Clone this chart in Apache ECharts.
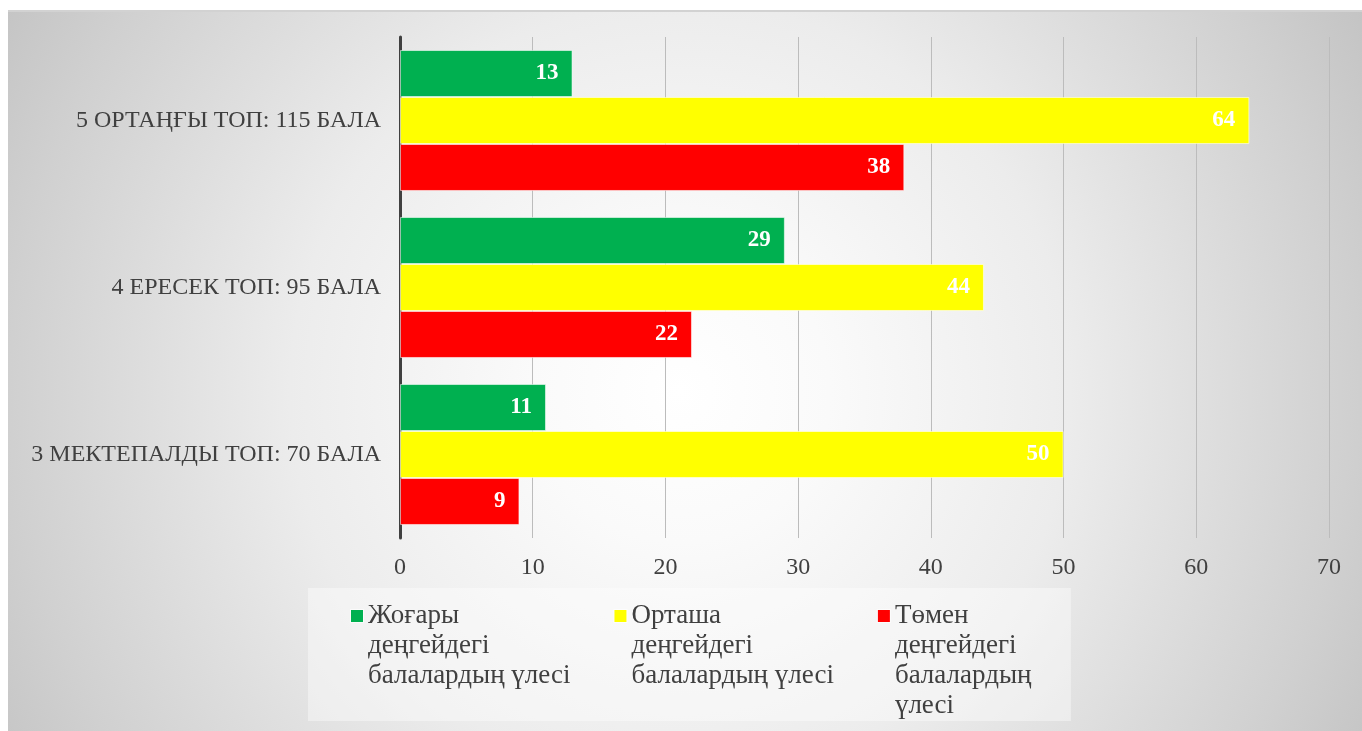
<!DOCTYPE html>
<html>
<head>
<meta charset="utf-8">
<script src="https://cdn.jsdelivr.net/npm/echarts@6/dist/echarts.min.js"></script>
<style>
  html, body { margin: 0; padding: 0; background: #fff; }
  #panel {
    position: absolute; left: 8px; top: 10px; width: 1354px; height: 721px;
    box-sizing: border-box; border-top: 2px solid #d2d2d2;
    background: radial-gradient(circle 800px at 672px 380px,
      #ffffff 0px, #fafafa 150px, #ececec 390px, #d0d0d0 670px, #c2c2c2 800px);
  }
  #chart { position: absolute; left: 0; top: 0; width: 1362px; height: 731px; }
</style>
</head>
<body>
<div id="panel"></div>
<div id="chart"></div>
<script>
// groups, bottom to top as the category axis draws them
const categories = ['3 МЕКТЕПАЛДЫ ТОП: 70 БАЛА', '4 ЕРЕСЕК ТОП: 95 БАЛА', '5 ОРТАҢҒЫ ТОП: 115 БАЛА'];
const highLevel = [11, 29, 13];
const midLevel = [50, 44, 64];
const lowLevel = [9, 22, 38];

const seriesNames = [
  ['Жоғары', 'деңгейдегі', 'балалардың үлесі'],
  ['Орташа', 'деңгейдегі', 'балалардың үлесі'],
  ['Төмен', 'деңгейдегі', 'балалардың', 'үлесі']
];
const legendNames = seriesNames.map(n => n.join(' '));
const COLORS = ['#00b050', '#ffff00', '#ff0000'];

const FONT = "'Liberation Serif', 'DejaVu Serif', serif";
const TEXT = '#404040';

// legend text built as rich lines so the square hangs beside the first line only
function legendLabel(name) {
  const i = legendNames.indexOf(name);
  const lines = seriesNames[i];
  const tk = i === 2 ? 't3' : 't';
  const out = lines.map((l, k) => (k === 0 ? '{sq' + i + '| }{gp| }' : '{ind| }') + '{' + tk + '|' + l + '}');
  while (out.length < 4) out.push('{ind| }{' + tk + '| }');
  return out.join('\n');
}

const sq = c => ({
  width: 12, height: 12, fontSize: 8, backgroundColor: c,
  borderColor: 'rgba(255,255,255,0.6)', borderWidth: 1
});

function barSeries(name, data, color) {
  return {
    name: name,
    type: 'bar',
    data: data,
    barGap: '0%',
    barCategoryGap: '15.6%',
    itemStyle: { color: color, borderColor: 'rgba(255,255,255,0.55)', borderWidth: 1 },
    label: {
      show: true, position: 'insideRight', distance: 14,
      color: '#fff', fontFamily: FONT, fontWeight: 'bold', fontSize: 23
    }
  };
}

const chart = echarts.init(document.getElementById('chart'));
chart.setOption({
  backgroundColor: 'transparent',
  animation: false,
  grid: { left: 400, right: 33, top: 37, bottom: 193, containLabel: false },
  xAxis: {
    type: 'value', min: 0, max: 70, interval: 10,
    axisLine: { show: false },
    axisTick: { show: false },
    axisLabel: { color: TEXT, fontFamily: FONT, fontSize: 24, margin: 18 },
    splitLine: { lineStyle: { color: '#bcbcbc', width: 1 } }
  },
  yAxis: {
    type: 'category', data: categories,
    axisLine: { lineStyle: { color: '#404040', width: 3 } },
    axisTick: { show: false },
    axisLabel: { color: TEXT, fontFamily: FONT, fontSize: 24, margin: 19 }
  },
  legend: {
    data: legendNames,
    left: 308, top: 588,
    padding: [13, 26, 0, 38],
    itemGap: 39,
    itemWidth: 0, itemHeight: 14,
    icon: 'rect',
    itemStyle: { color: 'transparent', borderWidth: 0, opacity: 0 },
    backgroundColor: 'rgba(255,255,255,0.4)',
    selectedMode: false,
    formatter: legendLabel,
    textStyle: {
      color: TEXT, fontFamily: FONT, fontSize: 27, lineHeight: 30,
      rich: {
        sq0: sq(COLORS[0]), sq1: sq(COLORS[1]), sq2: sq(COLORS[2]),
        gp: { width: 5, fontSize: 8 },
        ind: { width: 17, fontSize: 8 },
        t: { width: 200, color: TEXT, fontFamily: FONT, fontSize: 27, lineHeight: 30 },
        t3: { width: 150, color: TEXT, fontFamily: FONT, fontSize: 27, lineHeight: 30 }
      }
    }
  },
  // first series is drawn at the top of each group
  series: [
    barSeries(legendNames[0], highLevel, COLORS[0]),
    barSeries(legendNames[1], midLevel, COLORS[1]),
    barSeries(legendNames[2], lowLevel, COLORS[2])
  ]
});
</script>
</body>
</html>
